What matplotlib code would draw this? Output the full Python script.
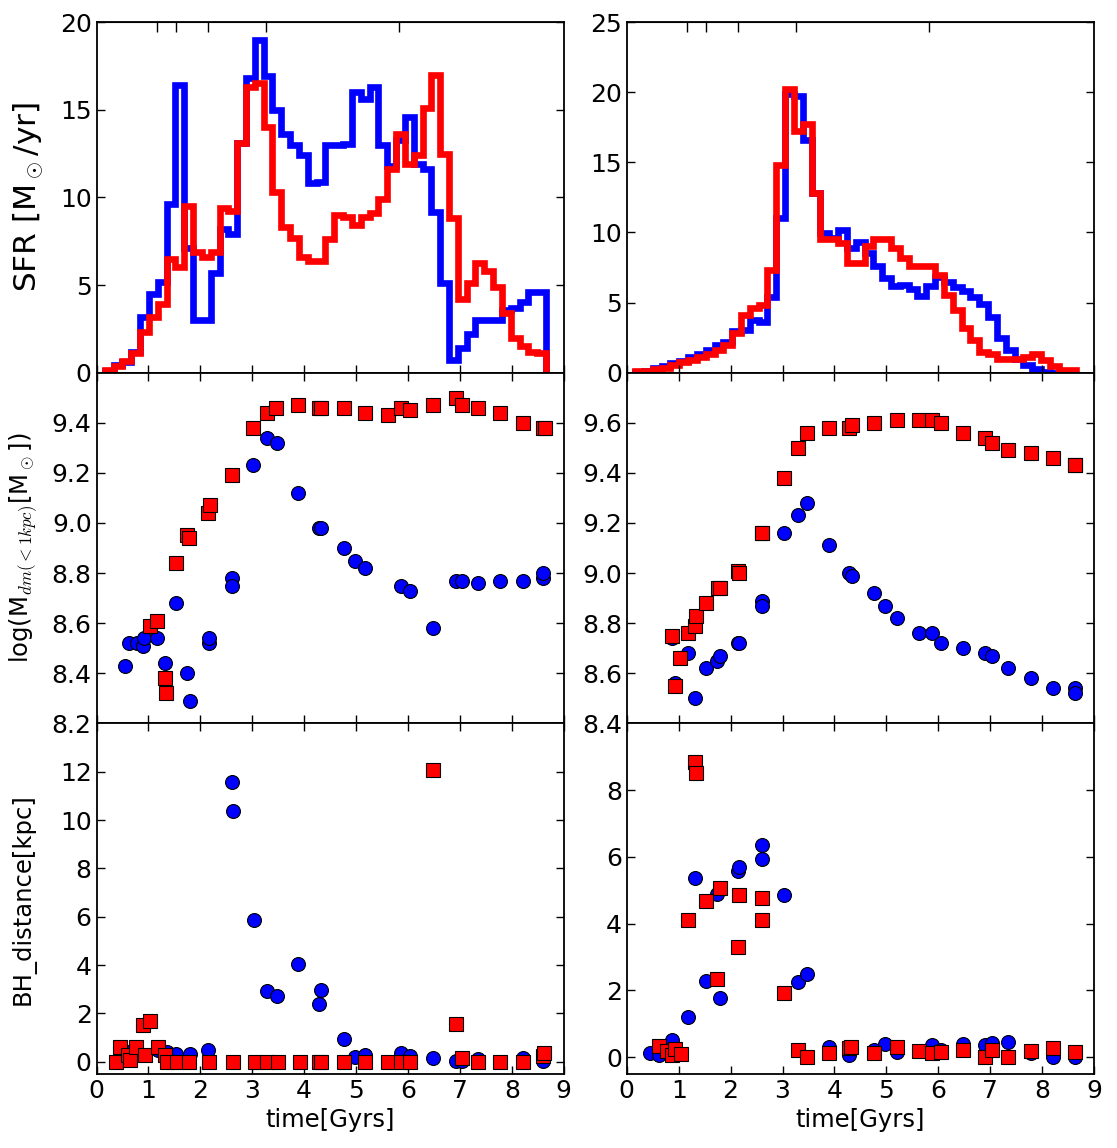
import numpy as np
import matplotlib
matplotlib.use("Agg")
import matplotlib.pyplot as plt

plt.rcParams["mathtext.fontset"] = "cm"
plt.rcParams["font.family"] = ["DejaVu Sans"]

BLUE, RED = "#0000ff", "#ff0000"

# SFR histogram bins (Gyr) shared by all four step curves
t_edges = np.round(0.16 + 0.17 * np.arange(51), 2)

sfr_l_blue = [0.1, 0.45, 0.6, 1.2, 3.2, 4.5, 5.2, 9.6, 16.4, 7.1,
              3.0, 3.0, 5.7, 8.2, 7.9, 13.1, 16.8, 19.0, 16.9, 15.0,
              13.6, 13.0, 12.4, 10.8, 10.9, 13.0, 13.0, 13.05, 16.0, 15.6,
              16.3, 13.0, 11.8, 13.3, 14.6, 11.9, 11.6, 9.15, 5.1, 0.75,
              1.4, 2.2, 3.0, 3.0, 3.0, 3.6, 3.7, 4.05, 4.6, 4.6]
sfr_l_red = [0.15, 0.4, 0.65, 1.1, 2.3, 3.2, 3.9, 6.5, 6.0, 9.5,
             6.9, 6.6, 6.9, 9.4, 9.25, 13.1, 16.3, 16.5, 14.0, 10.3,
             8.3, 7.7, 6.6, 6.35, 6.35, 7.6, 9.0, 8.9, 8.4, 8.9,
             9.1, 9.9, 11.6, 13.6, 11.9, 12.4, 15.1, 17.0, 12.5, 8.8,
             4.2, 5.1, 6.25, 5.8, 4.9, 3.4, 2.0, 1.5, 1.2, 1.1]
sfr_r_blue = [0.05, 0.15, 0.3, 0.45, 0.7, 0.85, 1.15, 1.3, 1.65, 1.95,
              2.2, 2.95, 3.05, 3.75, 3.6, 5.4, 11.0, 19.9, 19.7, 16.6,
              12.8, 9.95, 9.6, 10.2, 8.9, 9.35, 8.5, 7.6, 6.75, 6.2,
              6.25, 6.0, 5.45, 6.2, 6.8, 6.5, 6.1, 5.85, 5.4, 4.9,
              4.0, 2.5, 1.6, 1.0, 0.55, 0.25, 0.05, 0.0, 0.0, 0.0]
sfr_r_red = [0.1, 0.15, 0.25, 0.35, 0.55, 0.75, 0.9, 1.15, 1.35, 1.65,
             2.0, 2.8, 4.1, 4.6, 4.85, 7.35, 14.8, 20.2, 17.2, 17.7,
             12.8, 9.5, 9.5, 9.25, 7.8, 7.8, 9.0, 9.5, 9.5, 8.9,
             8.2, 7.6, 7.6, 7.6, 7.0, 5.55, 4.5, 3.2, 2.35, 1.5,
             1.3, 1.0, 1.0, 1.0, 1.15, 1.3, 0.9, 0.45, 0.2, 0.2]

# redshift markers on the top axis (z = 5, 4, 3, 2, 1)
t_zticks = [1.16, 1.53, 2.14, 3.26, 5.83]

# log dark-matter mass inside 1 kpc
t_mdm_l_blue = [0.54, 0.63, 0.78, 0.89, 0.92, 1.17, 1.32, 1.53, 1.74, 1.80, 2.16, 2.17,
                2.61, 2.61, 3.02, 3.28, 3.47, 3.89, 4.28, 4.32, 4.76, 4.97, 5.18, 5.86,
                6.04, 6.48, 6.92, 7.04, 7.34, 7.78, 8.21, 8.61, 8.61]
mdm_l_blue = [8.43, 8.52, 8.52, 8.51, 8.54, 8.54, 8.44, 8.68, 8.40, 8.29, 8.52, 8.54,
              8.78, 8.75, 9.23, 9.34, 9.32, 9.12, 8.98, 8.98, 8.90, 8.85, 8.82, 8.75,
              8.73, 8.58, 8.77, 8.77, 8.76, 8.77, 8.77, 8.78, 8.80]
t_mdm_l_red = [1.03, 1.17, 1.32, 1.33, 1.53, 1.74, 1.79, 2.14, 2.18, 2.61, 3.02, 3.28,
               3.46, 3.89, 4.28, 4.32, 4.76, 5.18, 5.61, 5.86, 6.04, 6.48, 6.92, 7.04,
               7.34, 7.78, 8.21, 8.61, 8.63]
mdm_l_red = [8.59, 8.61, 8.38, 8.32, 8.84, 8.95, 8.94, 9.04, 9.07, 9.19, 9.38, 9.44,
             9.46, 9.47, 9.46, 9.46, 9.46, 9.44, 9.43, 9.46, 9.45, 9.47, 9.50, 9.47,
             9.46, 9.44, 9.40, 9.38, 9.38]
t_mdm_r_blue = [0.87, 0.92, 1.17, 1.32, 1.53, 1.74, 1.79, 2.15, 2.16, 2.60, 2.61, 3.03,
                3.29, 3.48, 3.90, 4.29, 4.33, 4.76, 4.98, 5.20, 5.63, 5.87, 6.05, 6.48,
                6.91, 7.04, 7.35, 7.79, 8.22, 8.63, 8.64]
mdm_r_blue = [8.74, 8.56, 8.68, 8.50, 8.62, 8.65, 8.67, 8.72, 8.72, 8.89, 8.87, 9.16,
              9.23, 9.28, 9.11, 9.00, 8.99, 8.92, 8.87, 8.82, 8.76, 8.76, 8.72, 8.70,
              8.68, 8.67, 8.62, 8.58, 8.54, 8.54, 8.52]
t_mdm_r_red = [0.87, 0.92, 1.03, 1.17, 1.32, 1.33, 1.53, 1.75, 1.79, 2.15, 2.17, 2.60,
               2.61, 3.03, 3.29, 3.47, 3.90, 4.29, 4.33, 4.76, 5.20, 5.63, 5.87, 6.05,
               6.48, 6.91, 7.04, 7.35, 7.79, 8.22, 8.63, 8.64]
mdm_r_red = [8.75, 8.55, 8.66, 8.76, 8.79, 8.83, 8.88, 8.94, 8.94, 9.01, 9.00, 9.16,
             9.16, 9.38, 9.50, 9.56, 9.58, 9.58, 9.59, 9.60, 9.61, 9.61, 9.61, 9.60,
             9.56, 9.54, 9.52, 9.49, 9.48, 9.46, 9.43, 9.43]

# black-hole distance from centre
t_bh_l_blue = [0.45, 0.63, 0.77, 0.90, 1.19, 1.35, 1.54, 1.80, 2.15, 2.61, 2.62, 3.04,
               3.28, 3.47, 3.89, 4.28, 4.32, 4.76, 4.97, 5.18, 5.86, 6.04, 6.48, 6.92,
               7.04, 7.34, 8.21, 8.61, 8.62]
bh_l_blue = [0.4, 0.4, 0.55, 0.28, 0.48, 0.41, 0.34, 0.34, 0.48, 11.58, 10.37, 5.85,
             2.94, 2.74, 4.06, 2.41, 2.96, 0.95, 0.19, 0.3, 0.37, 0.23, 0.17, 0.03,
             0.05, 0.12, 0.17, 0.03, 0.3]
t_bh_l_red = [0.37, 0.46, 0.61, 0.64, 0.77, 0.90, 0.93, 1.04, 1.19, 1.32, 1.35, 1.56,
              1.79, 2.17, 2.62, 3.05, 3.29, 3.50, 3.92, 4.29, 4.32, 4.76, 5.18, 5.61,
              5.86, 6.04, 6.48, 6.92, 7.04, 7.34, 7.78, 8.21, 8.61, 8.62]
bh_l_red = [0.0, 0.62, 0.28, 0.07, 0.62, 1.52, 0.28, 1.70, 0.62, 0.28, 0.0, 0.0,
            0.0, 0.0, 0.0, 0.0, 0.0, 0.0, 0.0, 0.0, 0.0, 0.0, 0.0, 0.0,
            0.0, 0.0, 12.09, 1.58, 0.17, 0.0, 0.0, 0.0, 0.23, 0.37]
t_bh_r_blue = [0.44, 0.63, 0.87, 0.93, 1.17, 1.31, 1.53, 1.74, 1.79, 2.14, 2.17, 2.60,
               2.61, 3.03, 3.29, 3.48, 3.90, 4.29, 4.76, 4.98, 5.20, 5.87, 6.05, 6.48,
               6.91, 7.04, 7.35, 7.79, 8.22, 8.63]
bh_r_blue = [0.14, 0.07, 0.52, 0.17, 1.21, 5.36, 2.29, 4.88, 1.78, 5.59, 5.69, 6.37,
             5.94, 4.85, 2.24, 2.48, 0.32, 0.07, 0.22, 0.40, 0.17, 0.37, 0.22, 0.39,
             0.37, 0.42, 0.47, 0.12, 0.02, 0.02]
t_bh_r_red = [0.63, 0.77, 0.87, 0.93, 1.04, 1.17, 1.31, 1.33, 1.53, 1.74, 1.79, 2.14,
              2.17, 2.60, 2.61, 3.03, 3.29, 3.47, 3.90, 4.29, 4.32, 4.76, 5.20, 5.63,
              5.87, 6.05, 6.48, 6.91, 7.04, 7.35, 7.79, 8.22, 8.63]
bh_r_red = [0.34, 0.19, 0.07, 0.24, 0.09, 4.10, 8.83, 8.51, 4.67, 2.33, 5.06, 3.30,
            4.85, 4.10, 4.77, 1.93, 0.22, 0.0, 0.12, 0.27, 0.32, 0.12, 0.32, 0.20,
            0.12, 0.17, 0.22, 0.02, 0.22, 0.0, 0.20, 0.29, 0.15]


def style(ax, top=True):
    ax.tick_params(direction="in", top=top, right=True, length=6, width=1,
                   labelsize=18)
    for sp in ax.spines.values():
        sp.set_linewidth(1.3)
    ax.set_xlim(0, 9)


def scatter_pair(ax, tb, yb, tr, yr):
    ax.plot(tb, yb, "o", color=BLUE, mec="k", mew=0.8, ms=10, ls="none")
    ax.plot(tr, yr, "s", color=RED, mec="k", mew=0.8, ms=10, ls="none")


fig, axes = plt.subplots(3, 2, figsize=(11.17, 11.48), dpi=100, sharex=True)
fig.subplots_adjust(left=0.0864, right=0.9794, top=0.9808, bottom=0.0645,
                    hspace=0, wspace=0.135)

# --- SFR histograms ---
for ax, b, r, ymax in [(axes[0, 0], sfr_l_blue, sfr_l_red, 20),
                       (axes[0, 1], sfr_r_blue, sfr_r_red, 25)]:
    ax.stairs(b, t_edges, baseline=0, color=BLUE, lw=4.8)
    ax.stairs(r, t_edges, baseline=0, color=RED, lw=4.8)
    style(ax, top=False)
    ax.set_ylim(0, ymax)
    ax.set_yticks(np.arange(0, ymax + 1, 5))
    sec = ax.secondary_xaxis("top")
    sec.set_xticks(t_zticks, labels=[])
    sec.tick_params(direction="in", length=7, width=1)
axes[0, 0].set_ylabel(r"SFR [M$_\odot$/yr]", fontsize=22.5)

# --- inner DM mass ---
scatter_pair(axes[1, 0], t_mdm_l_blue, mdm_l_blue, t_mdm_l_red, mdm_l_red)
scatter_pair(axes[1, 1], t_mdm_r_blue, mdm_r_blue, t_mdm_r_red, mdm_r_red)
style(axes[1, 0]); style(axes[1, 1])
axes[1, 0].set_ylim(8.2, 9.6)
axes[1, 0].set_yticks([8.2, 8.4, 8.6, 8.8, 9.0, 9.2, 9.4])
axes[1, 1].set_ylim(8.4, 9.8)
axes[1, 1].set_yticks([8.4, 8.6, 8.8, 9.0, 9.2, 9.4, 9.6])
axes[1, 0].set_ylabel(r"log(M$_{dm(<1kpc)}$[M$_\odot$])", fontsize=17.5)

# --- BH offset ---
scatter_pair(axes[2, 0], t_bh_l_blue, bh_l_blue, t_bh_l_red, bh_l_red)
scatter_pair(axes[2, 1], t_bh_r_blue, bh_r_blue, t_bh_r_red, bh_r_red)
style(axes[2, 0]); style(axes[2, 1])
axes[2, 0].set_ylim(-0.5, 14)
axes[2, 0].set_yticks(np.arange(0, 13, 2))
axes[2, 1].set_ylim(-0.5, 10)
axes[2, 1].set_yticks(np.arange(0, 9, 2))
axes[2, 0].set_ylabel("BH_distance[kpc]", fontsize=17.5)
for ax in axes[2]:
    ax.set_xticks(range(10))
    ax.set_xlabel("time[Gyrs]", fontsize=17.5)

axes[0, 0].yaxis.set_label_coords(-0.11, 0.5)
axes[1, 0].yaxis.set_label_coords(-0.124, 0.5)
axes[2, 0].yaxis.set_label_coords(-0.13, 0.5)

fig.savefig("out.png", dpi=100, facecolor="white")
